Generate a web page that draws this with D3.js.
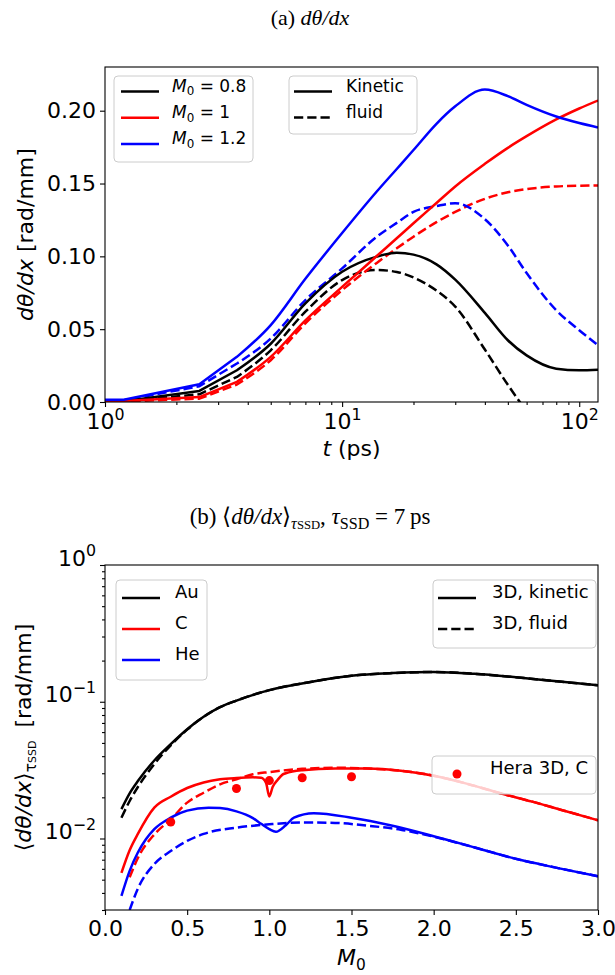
<!DOCTYPE html>
<html>
<head>
<meta charset="utf-8">
<script src="https://cdn.jsdelivr.net/npm/d3@7"></script>
<style>
body { margin: 0; background: #fff; }
text { font-family: "DejaVu Sans", sans-serif; fill: #000; }
</style>
</head>
<body>
<svg width="615" height="975"></svg>
<script>
// panel (a): dtheta/dx against t
var tPs = [1, 1.2, 2.5, 3.6, 5, 7, 10, 14, 17, 20, 25, 30, 40, 50, 60, 80, 100, 120];
var kin08 = [0.0003, 0.0006, 0.0076, 0.0218, 0.040, 0.0677, 0.0894, 0.0998, 0.1025, 0.1012, 0.0945, 0.0840, 0.0612, 0.0424, 0.032, 0.0229, 0.0218, 0.0222];
var flu08 = [0.0002, 0.0004, 0.0053, 0.0172, 0.0355, 0.062, 0.0837, 0.0906, 0.0893, 0.0855, 0.0765, 0.0655, 0.036, 0.0118, -0.0065, null, null, null];
var kin10 = [0.0005, 0.0007, 0.0034, 0.0138, 0.031, 0.056, 0.079, 0.1002, 0.1124, 0.1227, 0.1366, 0.148, 0.1635, 0.1745, 0.1825, 0.194, 0.2015, 0.207];
var flu10 = [0.0003, 0.0004, 0.0023, 0.012, 0.0287, 0.054, 0.0768, 0.0955, 0.1055, 0.1135, 0.1235, 0.1305, 0.1395, 0.144, 0.1462, 0.148, 0.1485, 0.1487];
var kin12 = [0.0016, 0.0016, 0.0122, 0.031, 0.0528, 0.0846, 0.116, 0.1445, 0.160, 0.173, 0.191, 0.203, 0.2145, 0.210, 0.204, 0.196, 0.1915, 0.1885];
var flu12 = [0.001, 0.0012, 0.0108, 0.0264, 0.0436, 0.070, 0.0917, 0.1135, 0.123, 0.1305, 0.1345, 0.1365, 0.1255, 0.1075, 0.0885, 0.063, 0.0493, 0.039];
var yTicksA = [0, 0.05, 0.1, 0.15, 0.2];

// panel (b): averaged dtheta/dx against M0
var auM = [0.1, 0.15, 0.2, 0.3, 0.4, 0.5, 0.6, 0.7, 0.8, 1.0, 1.25, 1.5, 1.75, 2.0, 2.25, 2.5, 2.75, 3.0];
var auKin = [0.0164, 0.0214, 0.0263, 0.0372, 0.049, 0.063, 0.0776, 0.0912, 0.102, 0.1216, 0.1396, 0.155, 0.162, 0.165, 0.160, 0.151, 0.141, 0.132];
var auFlu = [0.0142, 0.0188, 0.0238, 0.035, 0.048, 0.0625, 0.0776, 0.0912, 0.102, 0.1216, 0.1396, 0.155, 0.162, 0.165, 0.160, 0.151, 0.141, 0.132];
var cM = [0.1, 0.15, 0.2, 0.3, 0.4, 0.5, 0.6, 0.7, 0.8, 0.9, 0.95, 0.98, 1.0, 1.02, 1.05, 1.08, 1.1, 1.2, 1.4, 1.6, 1.8, 2.0, 2.2, 2.4, 2.6, 2.8, 3.0];
var cKin = [0.0056, 0.0082, 0.0108, 0.0168, 0.0202, 0.0234, 0.0257, 0.0271, 0.0277, 0.028, 0.0278, 0.0255, 0.0203, 0.0238, 0.0268, 0.0293, 0.0300, 0.0316, 0.0325, 0.0325, 0.0313, 0.0288, 0.0252, 0.0215, 0.0186, 0.0159, 0.0136];
var cFluM = [0.15, 0.2, 0.3, 0.4, 0.5, 0.6, 0.7, 0.8, 0.9, 1.0, 1.1, 1.2, 1.4, 1.6, 1.8, 2.0, 2.2, 2.4, 2.6, 2.8, 3.0];
var cFlu = [0.0052, 0.0072, 0.0107, 0.0138, 0.0183, 0.0216, 0.0249, 0.0271, 0.0295, 0.0306, 0.0316, 0.0323, 0.0329, 0.0325, 0.0313, 0.0288, 0.0252, 0.0215, 0.0186, 0.0159, 0.0136];
var heM = [0.1, 0.15, 0.2, 0.25, 0.3, 0.4, 0.5, 0.63, 0.7, 0.8, 0.9, 0.95, 1.0, 1.04, 1.1, 1.15, 1.27, 1.5, 1.75, 2.0, 2.25, 2.5, 2.75, 3.0];
var heKin = [0.0038, 0.0058, 0.0079, 0.0099, 0.0117, 0.0142, 0.016, 0.0168, 0.0167, 0.0158, 0.0141, 0.0128, 0.0117, 0.0112, 0.0125, 0.0142, 0.0153, 0.0142, 0.0124, 0.0104, 0.0086, 0.0071, 0.0061, 0.0053];
var heFluM = [0.15, 0.2, 0.3, 0.4, 0.5, 0.6, 0.8, 1.0, 1.2, 1.4, 1.6, 1.8, 2.0, 2.25, 2.5, 2.75, 3.0];
var heFlu = [0.003, 0.0043, 0.0065, 0.0081, 0.0096, 0.0108, 0.012, 0.0127, 0.0131, 0.013, 0.0124, 0.0116, 0.0103, 0.0086, 0.0071, 0.0061, 0.0053];
var heraM = [0.4, 0.8, 1.0, 1.2, 1.5];
var hera = [0.0132, 0.0232, 0.0265, 0.0278, 0.0283];
var xTicksB = [0, 0.5, 1, 1.5, 2, 2.5, 3];

var svg = d3.select('svg');
var L = 105, R = 598;
var tick = 22;   // tick label size
var lw = 2.5;
var dash = '9.25,4';

// text with italic / sub / superscript pieces
function rich(txt, parts, fs) {
  var shift = 0;
  parts.forEach(p => {
    var s = p.sub ? fs * 0.22 : p.sup ? -fs * 0.42 : 0;
    var ts = txt.append('tspan').text(p.t).attr('dy', s - shift);
    shift = s;
    if (p.sub || p.sup) ts.attr('font-size', fs * (p.k || 0.7));
    if (p.it) ts.attr('font-style', 'italic');
    if (p.dx) ts.attr('dx', p.dx);
  });
}

function styleAxis(g) {
  g.select('.domain').remove();
  g.selectAll('line').attr('stroke', '#000').attr('stroke-width', 1.1);
  g.attr('font-family', null).attr('font-size', null);
  g.selectAll('text').attr('font-size', tick).attr('fill', '#000');
}

function legendBox(x, y, w, h) {
  svg.append('rect')
    .attr('x', x).attr('y', y).attr('width', w).attr('height', h)
    .attr('rx', 4)
    .attr('fill', 'white').attr('fill-opacity', 0.8)
    .attr('stroke', '#cccccc').attr('stroke-width', 1);
}
function legendLine(x, y, color, dashed) {
  svg.append('line')
    .attr('x1', x).attr('x2', x + 38).attr('y1', y).attr('y2', y)
    .attr('stroke', color).attr('stroke-width', lw)
    .attr('stroke-dasharray', dashed ? dash : null);
}
function legendText(x, y, parts, fs) {
  var t = svg.append('text').attr('x', x).attr('y', y).attr('dy', '0.35em').attr('font-size', fs);
  rich(t, parts, fs);
}

// ---------- titles ----------
var ta = svg.append('text').attr('x', 310).attr('y', 25).attr('text-anchor', 'middle')
  .style('font-family', '"Liberation Serif", serif').attr('font-size', 22);
rich(ta, [{t: '(a) '}, {t: 'd\u03b8/dx', it: true}], 22);

var tb = svg.append('text').attr('x', 310).attr('y', 524).attr('text-anchor', 'middle')
  .style('font-family', '"Liberation Serif", serif').attr('font-size', 23);
rich(tb, [{t: '(b) \u27e8'}, {t: 'd\u03b8/dx', it: true}, {t: '\u27e9'},
  {t: '\u03c4', it: true, sub: true}, {t: 'SSD', sub: true, k: 0.55},
  {t: ', '}, {t: '\u03c4', it: true}, {t: 'SSD', sub: true, k: 0.7}, {t: ' = 7\u2009ps'}], 23);

// ---------- panel (a) ----------
var topA = 67, botA = 402;
var x1 = d3.scaleLog().domain([1, 120]).range([L, R]);
var y1 = d3.scaleLinear().domain([0, 0.23]).range([botA, topA]);

svg.append('clipPath').attr('id', 'clipA').append('rect')
  .attr('x', L).attr('y', topA).attr('width', R - L).attr('height', botA - topA);

var minorT = [2, 3, 4, 5, 6, 7, 8, 9, 20, 30, 40, 50, 60, 70, 80, 90];
svg.append('g').attr('transform', 'translate(0,' + botA + ')')
  .call(d3.axisBottom(x1).tickValues(minorT).tickFormat('').tickSize(3).tickSizeOuter(0))
  .call(styleAxis);
var gxa = svg.append('g').attr('transform', 'translate(0,' + botA + ')')
  .call(d3.axisBottom(x1).tickValues([1, 10, 100]).tickFormat('').tickSize(5).tickSizeOuter(0))
  .call(styleAxis);
gxa.selectAll('.tick').each(function(d) {
  var t = d3.select(this).append('text').attr('y', 27).attr('text-anchor', 'middle').attr('font-size', tick);
  rich(t, [{t: '10'}, {t: String(Math.round(Math.log10(d))), sup: true, k: 0.72}], tick);
});

svg.append('g').attr('transform', 'translate(' + L + ',0)')
  .call(d3.axisLeft(y1).tickValues(yTicksA).tickFormat(d3.format('.2f')).tickSize(5).tickPadding(4).tickSizeOuter(0))
  .call(styleAxis);

// early samples are joined straight, the later ones smoothly
var lineLin = d3.line()
  .defined(d => d[1] != null)
  .x(d => x1(d[0])).y(d => y1(d[1]));
var lineSmooth = d3.line()
  .defined(d => d[1] != null)
  .x(d => x1(d[0])).y(d => y1(d[1]))
  .curve(d3.curveMonotoneX);

var seriesA = [
  {v: flu08, c: 'black', dash: true}, {v: flu10, c: 'red', dash: true}, {v: flu12, c: 'blue', dash: true},
  {v: kin08, c: 'black'}, {v: kin10, c: 'red'}, {v: kin12, c: 'blue'}
];
var gA = svg.append('g').attr('clip-path', 'url(#clipA)');
var split = 4;
seriesA.forEach(s => {
  var pts = tPs.map((t, i) => [t, s.v[i]]);
  var d1 = lineLin(pts.slice(0, split));
  var d2 = lineSmooth(pts.slice(split - 1));
  gA.append('path')
    .attr('d', d1 + 'L' + d2.slice(1))
    .attr('fill', 'none').attr('stroke', s.c).attr('stroke-width', lw)
    .attr('stroke-linejoin', 'round')
    .attr('stroke-dasharray', s.dash ? dash : null);
});

svg.append('rect').attr('x', L).attr('y', topA).attr('width', R - L).attr('height', botA - topA)
  .attr('fill', 'none').attr('stroke', '#000').attr('stroke-width', 1.1);

var xla = svg.append('text').attr('x', (L + R) / 2).attr('y', 456).attr('text-anchor', 'middle').attr('font-size', 22);
rich(xla, [{t: 't', it: true}, {t: ' (ps)'}], 22);
var yla = svg.append('text').attr('transform', 'translate(33,' + (topA + botA) / 2 + ') rotate(-90)')
  .attr('text-anchor', 'middle').attr('font-size', 22);
rich(yla, [{t: 'd\u03b8/dx', it: true}, {t: ' [rad/mm]'}], 22);

// legends (a)
legendBox(114, 76, 139, 86);
[['0.8', 'black'], ['1', 'red'], ['1.2', 'blue']].forEach((r, i) => {
  var yy = 91.5 + i * 26.3;
  legendLine(121, yy, r[1]);
  legendText(172, yy, [{t: 'M', it: true}, {t: '0', sub: true}, {t: ' = ' + r[0]}], 17);
});
legendBox(289, 76, 128, 58);
legendLine(294, 91.5, 'black');
legendText(346, 91.5, [{t: 'Kinetic'}], 17);
legendLine(294, 117.5, 'black', true);
legendText(346, 117.5, [{t: 'fluid'}], 17);

// ---------- panel (b) ----------
var topB = 565, botB = 910;
var x2 = d3.scaleLinear().domain([0, 3]).range([L, R]);
var y2 = d3.scaleLog().domain([0.003, 1]).range([botB, topB]);

svg.append('clipPath').attr('id', 'clipB').append('rect')
  .attr('x', L).attr('y', topB).attr('width', R - L).attr('height', botB - topB);

svg.append('g').attr('transform', 'translate(0,' + botB + ')')
  .call(d3.axisBottom(x2).tickValues(xTicksB).tickFormat(d3.format('.1f')).tickSize(5).tickPadding(5).tickSizeOuter(0))
  .call(styleAxis);

var minorY = [];
[0.001, 0.01, 0.1].forEach(b => { for (var k = 2; k <= 9; k++) if (b * k >= 0.003) minorY.push(b * k); });
svg.append('g').attr('transform', 'translate(' + L + ',0)')
  .call(d3.axisLeft(y2).tickValues(minorY).tickFormat('').tickSize(3).tickSizeOuter(0))
  .call(styleAxis);
var gyb = svg.append('g').attr('transform', 'translate(' + L + ',0)')
  .call(d3.axisLeft(y2).tickValues([0.01, 0.1, 1]).tickFormat('').tickSize(5).tickSizeOuter(0))
  .call(styleAxis);
gyb.selectAll('.tick').each(function(d) {
  var e = Math.round(Math.log10(d));
  var t = d3.select(this).append('text').attr('x', -9).attr('dy', '0.35em').attr('text-anchor', 'end').attr('font-size', tick);
  rich(t, [{t: '10'}, {t: e === 0 ? '0' : '\u2212' + (-e), sup: true, k: 0.72}], tick);
});

var lineB = d3.line()
  .x(d => x2(d[0])).y(d => y2(d[1]))
  .curve(d3.curveMonotoneX);

var seriesB = [
  {m: heFluM, v: heFlu, c: 'blue', dash: true},
  {m: cFluM, v: cFlu, c: 'red', dash: true},
  {m: auM, v: auFlu, c: 'black', dash: true},
  {m: auM, v: auKin, c: 'black'},
  {m: cM, v: cKin, c: 'red'},
  {m: heM, v: heKin, c: 'blue'}
];
var gB = svg.append('g').attr('clip-path', 'url(#clipB)');
seriesB.forEach(s => {
  gB.append('path')
    .datum(s.m.map((m, i) => [m, s.v[i]]))
    .attr('d', lineB)
    .attr('fill', 'none').attr('stroke', s.c).attr('stroke-width', lw)
    .attr('stroke-dasharray', s.dash ? dash : null);
});
gB.selectAll('circle.hera')
  .data(heraM.map((m, i) => [m, hera[i]]))
  .enter().append('circle')
  .attr('class', 'hera')
  .attr('cx', d => x2(d[0])).attr('cy', d => y2(d[1])).attr('r', 4.5)
  .attr('fill', 'red');

svg.append('rect').attr('x', L).attr('y', topB).attr('width', R - L).attr('height', botB - topB)
  .attr('fill', 'none').attr('stroke', '#000').attr('stroke-width', 1.1);

var xlb = svg.append('text').attr('x', (L + R) / 2).attr('y', 965).attr('text-anchor', 'middle').attr('font-size', 22);
rich(xlb, [{t: 'M', it: true}, {t: '0', sub: true}], 22);
var ylb = svg.append('text').attr('transform', 'translate(31,' + (topB + botB) / 2 + ') rotate(-90)')
  .attr('text-anchor', 'middle').attr('font-size', 22);
rich(ylb, [{t: '\u27e8'}, {t: 'd\u03b8/dx', it: true}, {t: '\u27e9'}, {t: '\u03c4', sub: true}, {t: 'SSD', sub: true, k: 0.5},
  {t: ' [rad/mm]', dx: 6}], 22);

// legends (b)
legendBox(116, 580, 91, 100);
[['Au', 'black'], ['C', 'red'], ['He', 'blue']].forEach((r, i) => {
  var yy = 598 + i * 31;
  legendLine(122, yy, r[1]);
  legendText(175, yy, [{t: r[0]}], 18);
});
legendBox(433, 580, 163, 68);
legendLine(438, 598, 'black');
legendText(492, 598, [{t: '3D, kinetic'}], 18);
legendLine(438, 629, 'black', true);
legendText(492, 629, [{t: '3D, fluid'}], 18);
legendBox(432, 756, 164, 38);
svg.append('circle').attr('cx', 457).attr('cy', 774).attr('r', 4.5).attr('fill', 'red');
legendText(490, 774, [{t: 'Hera 3D, C'}], 18);
</script>
</body>
</html>
